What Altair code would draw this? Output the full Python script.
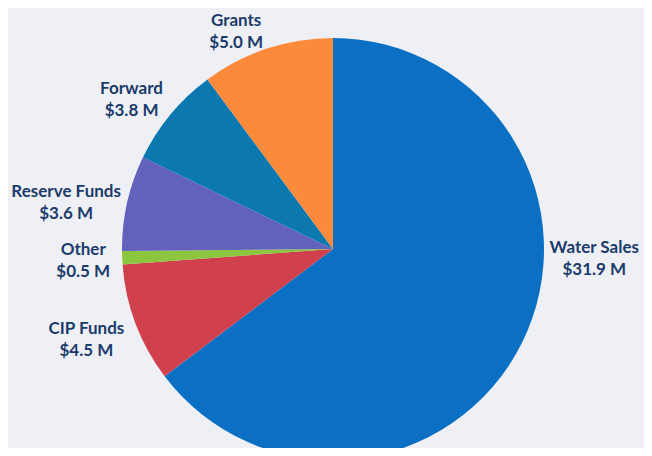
import altair as alt
import pandas as pd

categories = ["Water Sales", "CIP Funds", "Other", "Reserve Funds", "Forward", "Grants"]
values = [31.9, 4.5, 0.5, 3.6, 3.8, 5.0]
value_labels = ["$31.9 M", "$4.5 M", "$0.5 M", "$3.6 M", "$3.8 M", "$5.0 M"]
colors = ["#0b70c4", "#d0404d", "#8cc63f", "#6262bd", "#0b78b0", "#fb8a3b"]

df = pd.DataFrame({"category": categories, "value": values, "vlabel": value_labels})
df["end"] = df["value"].cumsum()
df["start"] = df["end"] - df["value"]
df["mid"] = (df["start"] + df["end"]) / 2
df["label"] = df["category"] + "\n" + df["vlabel"]
total = float(df["value"].sum())

theta_scale = alt.Scale(domain=[0, total])
cx, cy = 325, 241

pie = alt.Chart(df).mark_arc(radius=211, stroke=None).encode(
    theta=alt.Theta("start:Q", scale=theta_scale),
    theta2="end:Q",
    color=alt.Color("category:N", scale=alt.Scale(domain=categories, range=colors), legend=None),
    x=alt.value(cx),
    y=alt.value(cy),
)

text_style = dict(font="Lato", fontWeight="bold", fontSize=17, color="#1b3b6b",
                  lineBreak="\n", lineHeight=22, align="center", baseline="middle",
                  radius=255)

# per-label nudges (layout only) from the slice mid-angle position
nudges = {
    "Water Sales": (33, -115),
    "CIP Funds": (-8, -10),
    "Other": (5, -10),
    "Reserve Funds": (-18, -1),
    "Forward": (-5, 3),
    "Grants": (-17, 14),
}

labels = []
for cat in categories:
    ddx, ddy = nudges[cat]
    labels.append(
        alt.Chart(df).transform_filter(alt.datum.category == cat).mark_text(
            dx=ddx, dy=ddy, **text_style
        ).encode(
            theta=alt.Theta("mid:Q", scale=theta_scale),
            text="label:N",
            x=alt.value(cx),
            y=alt.value(cy),
        )
    )

chart = alt.layer(pie, *labels).properties(
    width=636, height=440, padding=0,
    autosize=alt.AutoSizeParams(type="none"),
    background="#eef0f5",
).configure_view(stroke=None)

chart.save("out.html", embed_options={"renderer": "svg", "actions": False})
